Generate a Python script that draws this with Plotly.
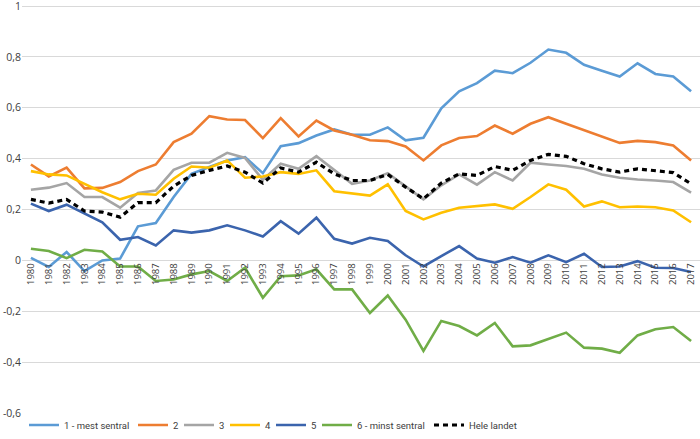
import plotly.graph_objects as go

years = [str(y) for y in range(1980, 2018)]

s1 = [0.01, -0.026, 0.033, -0.042, 0.0, 0.007, 0.134, 0.147, 0.249, 0.34, 0.367, 0.393, 0.406,
      0.343, 0.449, 0.461, 0.491, 0.515, 0.494, 0.494, 0.523, 0.472, 0.482, 0.598, 0.665, 0.697,
      0.746, 0.736, 0.777, 0.829, 0.816, 0.769, 0.746, 0.723, 0.775, 0.733, 0.723, 0.665]
s2 = [0.377, 0.33, 0.365, 0.283, 0.285, 0.308, 0.351, 0.377, 0.465, 0.498, 0.567, 0.554, 0.552,
      0.481, 0.559, 0.487, 0.55, 0.511, 0.494, 0.472, 0.469, 0.448, 0.393, 0.452, 0.481, 0.489,
      0.53, 0.498, 0.537, 0.563, 0.537, 0.513, 0.488, 0.462, 0.47, 0.465, 0.452, 0.393]
s3 = [0.278, 0.286, 0.304, 0.249, 0.249, 0.207, 0.265, 0.275, 0.356, 0.384, 0.384, 0.423, 0.403,
      0.317, 0.38, 0.36, 0.41, 0.356, 0.301, 0.314, 0.343, 0.291, 0.24, 0.295, 0.338, 0.298,
      0.347, 0.314, 0.384, 0.377, 0.371, 0.36, 0.338, 0.325, 0.318, 0.314, 0.308, 0.266]
s4 = [0.351, 0.338, 0.334, 0.301, 0.268, 0.24, 0.262, 0.258, 0.321, 0.369, 0.364, 0.393, 0.325,
      0.33, 0.347, 0.34, 0.354, 0.272, 0.264, 0.255, 0.299, 0.194, 0.161, 0.187, 0.207, 0.213,
      0.22, 0.203, 0.249, 0.299, 0.278, 0.212, 0.232, 0.209, 0.212, 0.209, 0.196, 0.15]
s5 = [0.223, 0.194, 0.219, 0.183, 0.15, 0.081, 0.092, 0.059, 0.118, 0.109, 0.118, 0.138, 0.118,
      0.094, 0.154, 0.105, 0.168, 0.085, 0.066, 0.089, 0.076, 0.02, -0.024, 0.017, 0.056, 0.007,
      -0.009, 0.013, -0.009, 0.02, -0.007, 0.026, -0.026, -0.024, -0.003, -0.029, -0.03, -0.046]
s6 = [0.046, 0.037, 0.009, 0.042, 0.035, -0.024, -0.024, -0.081, -0.075, -0.055, -0.042, -0.081, -0.029,
      -0.147, -0.062, -0.059, -0.035, -0.114, -0.114, -0.207, -0.138, -0.233, -0.356, -0.238, -0.258, -0.295,
      -0.246, -0.338, -0.334, -0.31, -0.284, -0.343, -0.347, -0.363, -0.295, -0.271, -0.262, -0.317]
hele = [0.24, 0.225, 0.24, 0.194, 0.19, 0.17, 0.227, 0.227, 0.292, 0.334, 0.354, 0.371, 0.347,
        0.304, 0.363, 0.347, 0.386, 0.34, 0.314, 0.314, 0.338, 0.288, 0.242, 0.304, 0.34, 0.334,
        0.369, 0.354, 0.393, 0.417, 0.409, 0.38, 0.36, 0.347, 0.36, 0.351, 0.345, 0.301]

names = ["1 - mest sentral", "2", "3", "4", "5", "6 - minst sentral", "Hele landet"]
colors = ["#5B9BD5", "#ED7D31", "#A5A5A5", "#FFC000", "#3B64AD", "#70AD47", "#000000"]
series = [s1, s2, s3, s4, s5, s6, hele]
legend_widths = [64, 1, 1, 1, 1, 67, 50]

ytickvals = [1, 0.8, 0.6, 0.4, 0.2, 0, -0.2, -0.4, -0.6]
yticktext = ["1", "0,8", "0,6", "0,4", "0,2", "0", "-0,2", "-0,4", "-0,6"]

fig = go.Figure()
for name, col, vals, lw in zip(names, colors, series, legend_widths):
    if name == "Hele landet":
        line = dict(color=col, width=3.2, dash="5px,4px")
    else:
        line = dict(color=col, width=2.6)
    fig.add_trace(go.Scatter(x=years, y=vals, mode="lines", name=name, line=line,
                             legendwidth=lw))

ymin, ymax = -0.6, 1.008
W, H = 700, 439
fig.update_layout(
    width=W, height=H,
    margin=dict(l=22, r=0, t=4, b=26, autoexpand=False),
    paper_bgcolor="white", plot_bgcolor="white",
    font=dict(family="Open Sans", size=11, color="#404040"),
    legend=dict(orientation="h", x=(24 - 22) / (W - 22), xanchor="left",
                yref="container", y=(H - 425) / H, yanchor="middle",
                font=dict(family="Roboto", size=9.5, color="#404040"),
                itemwidth=30, tracegroupgap=0, bgcolor="rgba(0,0,0,0)"),
    showlegend=True,
)
fig.update_xaxes(
    type="category", range=[-0.5, len(years) - 0.5],
    tickangle=-90, tickfont=dict(size=9.5, color="#404040"),
    showgrid=False, showline=False, zeroline=False,
    anchor="free", position=(0 - ymin) / (ymax - ymin),
    ticks="", ticklen=0, automargin=False,
)
fig.update_yaxes(
    range=[ymin, ymax], tickvals=ytickvals, ticktext=yticktext,
    showgrid=True, gridcolor="#D9D9D9", gridwidth=1,
    zeroline=False, showline=False, automargin=False,
    ticklabeloverflow="allow",
    tickfont=dict(size=10.5, color="#404040"),
)
fig.write_html("out.html", post_script="document.body.style.margin='0';",
               config={"displayModeBar": False})
